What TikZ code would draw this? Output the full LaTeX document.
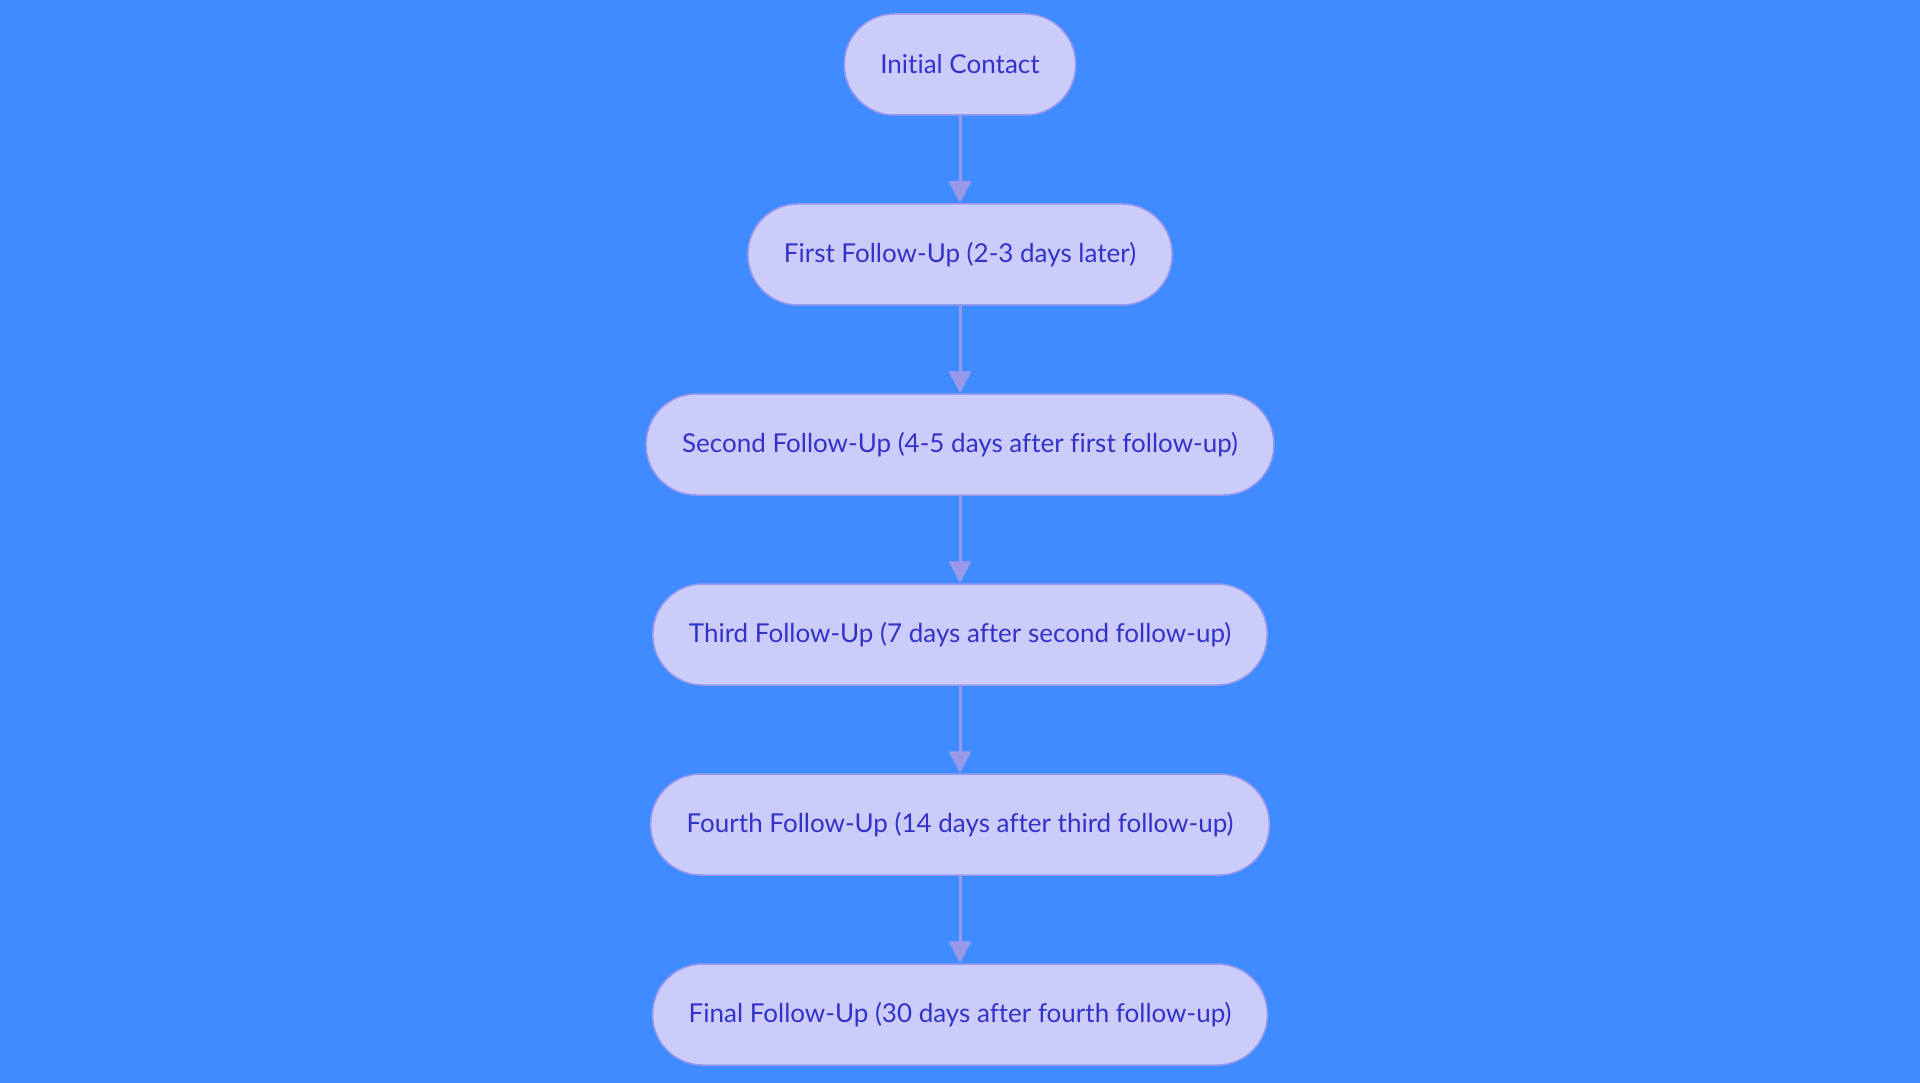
\documentclass[tikz,border=0pt]{standalone}
\usepackage{fontspec}
\setmainfont{Lato}[Ligatures=CommonOff]
\usepackage{tikz}
\usetikzlibrary{shapes,arrows.meta}

\definecolor{bgblue}{RGB}{63,139,255}
\definecolor{boxfill}{RGB}{204,204,251}
\definecolor{boxline}{RGB}{153,153,236}
\definecolor{boxtext}{RGB}{50,50,200}

\tikzset{
    stepbox/.style={draw=boxline, fill=boxfill, line width=1.5pt,
        rounded corners=50pt, minimum height=101pt, inner xsep=36pt,
        text=boxtext, font=\fontsize{26}{30}\selectfont},
    flowarrow/.style={draw=boxline, line width=3pt,
        -{Triangle[length=22pt,width=22pt]}}
}

\begin{document}
\begin{tikzpicture}[x=1pt,y=-1pt]
        % Background
        \fill[bgblue] (0,0) rectangle (1920,1083);
        \useasboundingbox (0,0) rectangle (1920,1083);
        % Define the steps
        \node[stepbox] (contact) at (960,64.5) {Initial Contact};
        \node[stepbox] (first)   at (960,254.5) {First Follow-Up (2-3 days later)};
        \node[stepbox] (second)  at (960,444.5) {Second Follow-Up (4-5 days after first follow-up)};
        \node[stepbox] (third)   at (960,634.5) {Third Follow-Up (7 days after second follow-up)};
        \node[stepbox] (fourth)  at (960,824.5) {Fourth Follow-Up (14 days after third follow-up)};
        \node[stepbox] (final)   at (960,1014.5) {Final Follow-Up (30 days after fourth follow-up)};
        % Add arrows
        \foreach \a/\b in {contact/first, first/second, second/third, third/fourth, fourth/final} {
            \draw[flowarrow] (\a) -- (\b);
        }
\end{tikzpicture}
\end{document}
